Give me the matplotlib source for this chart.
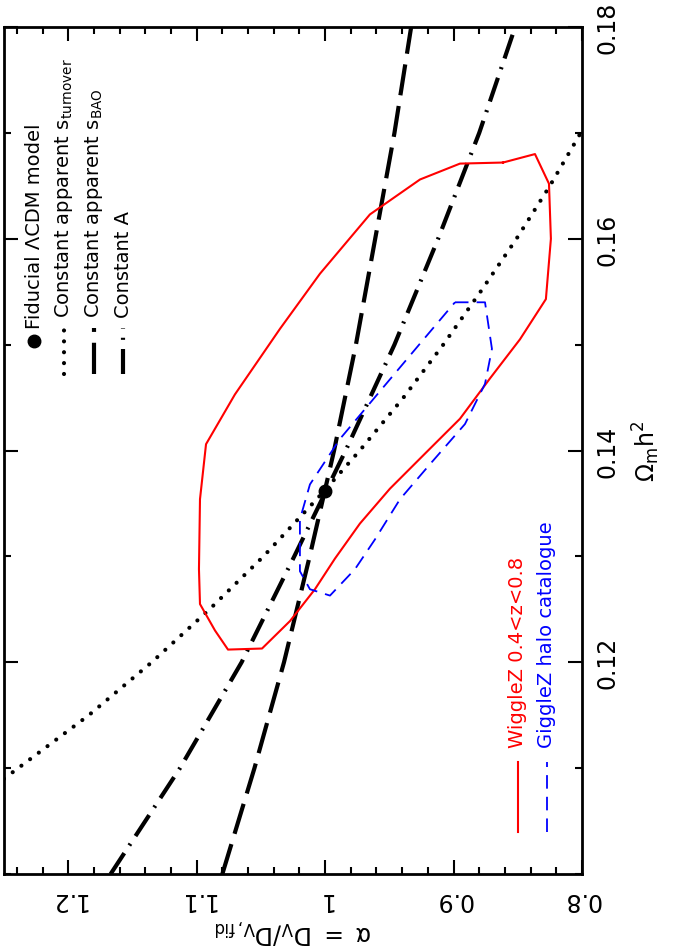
import matplotlib
matplotlib.use("Agg")
import matplotlib.pyplot as plt
from matplotlib.ticker import MultipleLocator

plt.rcParams["font.family"] = ["DejaVu Sans"]
plt.rcParams["mathtext.fontset"] = "dejavusans"
plt.rcParams["mathtext.default"] = "regular"

# fiducial model
fid_alpha = 1.0
fid_omh2 = 0.1362

# constant apparent s_turnover (dotted)
turn_omh2 = [0.109, 0.115, 0.120, 0.125, 0.130, 0.136, 0.140, 0.145, 0.150, 0.155, 0.160, 0.165, 0.170, 0.175]
turn_alpha = [1.250, 1.184, 1.135, 1.090, 1.048, 1.002, 0.973, 0.939, 0.908, 0.879, 0.851, 0.825, 0.801, 0.778]

# constant apparent s_BAO (dashed)
bao_omh2 = [0.100, 0.110, 0.120, 0.130, 0.140, 0.150, 0.160, 0.170, 0.180]
bao_alpha = [1.080, 1.055, 1.032, 1.012, 0.993, 0.976, 0.961, 0.946, 0.933]

# constant A (dash-dot)
A_omh2 = [0.100, 0.110, 0.120, 0.130, 0.140, 0.150, 0.160, 0.170, 0.180]
A_alpha = [1.167, 1.113, 1.065, 1.024, 0.984, 0.946, 0.912, 0.880, 0.852]

# WiggleZ 0.4<z<0.8 contour (red)
wig_alpha = [0.8615, 0.8366, 0.8257, 0.8242, 0.8281, 0.8483, 0.8717, 0.8950, 0.9223, 0.9495,
             0.9729, 0.9923, 1.0079, 1.0273, 1.0491, 1.0756, 1.0857, 1.0974, 1.0982, 1.0974,
             1.0927, 1.0702, 1.0351, 1.0040, 0.9651, 0.9261, 0.8950, 0.8615]
wig_omh2 = [0.1672, 0.1680, 0.1652, 0.1600, 0.1543, 0.1505, 0.1468, 0.1430, 0.1397, 0.1364,
            0.1331, 0.1298, 0.1269, 0.1239, 0.1213, 0.1212, 0.1230, 0.1255, 0.1288, 0.1354,
            0.1406, 0.1453, 0.1515, 0.1567, 0.1623, 0.1656, 0.1671, 0.1672]

# GiggleZ halo catalogue contour (blue)
gig_alpha = [0.8989, 0.8755, 0.8701, 0.8755, 0.8911, 0.9184, 0.9417, 0.9612, 0.9767, 0.9962,
             1.0118, 1.0196, 1.0196, 1.0118, 0.9884, 0.9573, 0.9261, 0.8989]
gig_omh2 = [0.1540, 0.1540, 0.1496, 0.1463, 0.1425, 0.1387, 0.1354, 0.1316, 0.1288, 0.1263,
            0.1269, 0.1286, 0.1335, 0.1368, 0.1411, 0.1456, 0.1501, 0.1540]

alpha_ticks = [0.8, 0.9, 1.0, 1.1, 1.2]
alpha_ticklabels = ["0.8", "0.9", "1", "1.1", "1.2"]
omh2_ticks = [0.12, 0.14, 0.16, 0.18]
omh2_ticklabels = ["0.12", "0.14", "0.16", "0.18"]

DOT = (0, (0.01, 2.6))
DASH = (0, (7.5, 2.6))
DASHDOT = (0, (6.0, 2.2, 0.5, 2.2))

fig = plt.figure(figsize=(6.75, 9.53), dpi=100)
ax = fig.add_axes([0.0059, 0.0818, 0.8563, 0.8888])

ax.plot(turn_alpha, turn_omh2, color="black", lw=3.0, linestyle=DOT, dash_capstyle="round")
ax.plot(bao_alpha, bao_omh2, color="black", lw=3.0, linestyle=DASH)
ax.plot(A_alpha, A_omh2, color="black", lw=3.0, linestyle=DASHDOT)
ax.plot(wig_alpha, wig_omh2, color="#ff0000", lw=1.5)
ax.plot(gig_alpha, gig_omh2, color="#0000ff", lw=1.3, linestyle=(0, (7.5, 4.5)))
ax.plot([fid_alpha], [fid_omh2], "o", color="black", ms=9)

ax.set_xlim(1.25, 0.8)
ax.set_ylim(0.10, 0.18)

ax.set_xticks(alpha_ticks)
ax.set_xticklabels(alpha_ticklabels)
ax.xaxis.set_minor_locator(MultipleLocator(0.02))
ax.set_yticks(omh2_ticks)
ax.set_yticklabels(omh2_ticklabels)
ax.yaxis.set_minor_locator(MultipleLocator(0.01))

ax.tick_params(which="both", direction="in", top=True, bottom=True, left=True, right=True,
               width=1.5)
ax.tick_params(which="major", length=10)
ax.tick_params(which="minor", length=5)
ax.tick_params(axis="x", labelsize=17, labelrotation=180, pad=9)
ax.tick_params(axis="y", labelsize=17, labelrotation=90, labelleft=False, labelright=True, pad=10)
for lab in ax.get_yticklabels():
    lab.set_verticalalignment("center")
for sp in ax.spines.values():
    sp.set_linewidth(2.0)

ax.set_xlabel(r"$\alpha\ =\ D_V/D_{V,fid}$", fontsize=17, rotation=180, labelpad=4)
ax.yaxis.set_label_position("right")
ax.set_ylabel(r"$\Omega_m h^2$", fontsize=17, rotation=90, labelpad=8)

# legend (top-left), drawn rotated like the original
fs = 14
key_y = [0.590, 0.645]
txt_y = 0.658
ax.plot([0.052], [0.629], "o", color="black", ms=9, transform=ax.transAxes)
ax.text(0.052, 0.645, "Fiducial \u039bCDM model", rotation=90, ha="center", va="bottom",
        fontsize=fs, transform=ax.transAxes)
ax.plot([0.104, 0.104], key_y, color="black", lw=3.0, linestyle=DOT,
        dash_capstyle="round", transform=ax.transAxes)
ax.text(0.104, txt_y, r"Constant apparent s$_{turnover}$", rotation=90, ha="center",
        va="bottom", fontsize=fs, transform=ax.transAxes)
ax.plot([0.156, 0.156], key_y, color="black", lw=3.0, linestyle=DASH,
        transform=ax.transAxes)
ax.text(0.156, txt_y, r"Constant apparent s$_{BAO}$", rotation=90, ha="center",
        va="bottom", fontsize=fs, transform=ax.transAxes)
ax.plot([0.206, 0.206], key_y, color="black", lw=3.0, linestyle=DASHDOT,
        transform=ax.transAxes)
ax.text(0.206, txt_y, "Constant A", rotation=90, ha="center", va="bottom", fontsize=fs,
        transform=ax.transAxes)

# legend (bottom-right)
ax.plot([0.889, 0.889], [0.050, 0.132], color="#ff0000", lw=1.5, transform=ax.transAxes)
ax.text(0.889, 0.150, "WiggleZ 0.4<z<0.8", rotation=90, ha="center", va="bottom",
        fontsize=fs, color="#ff0000", transform=ax.transAxes)
ax.plot([0.939, 0.939], [0.050, 0.132], color="#0000ff", lw=1.3,
        linestyle=(0, (7.5, 4.5)), transform=ax.transAxes)
ax.text(0.939, 0.150, "GiggleZ halo catalogue", rotation=90, ha="center", va="bottom",
        fontsize=fs, color="#0000ff", transform=ax.transAxes)

fig.savefig("out.png", dpi=100)
